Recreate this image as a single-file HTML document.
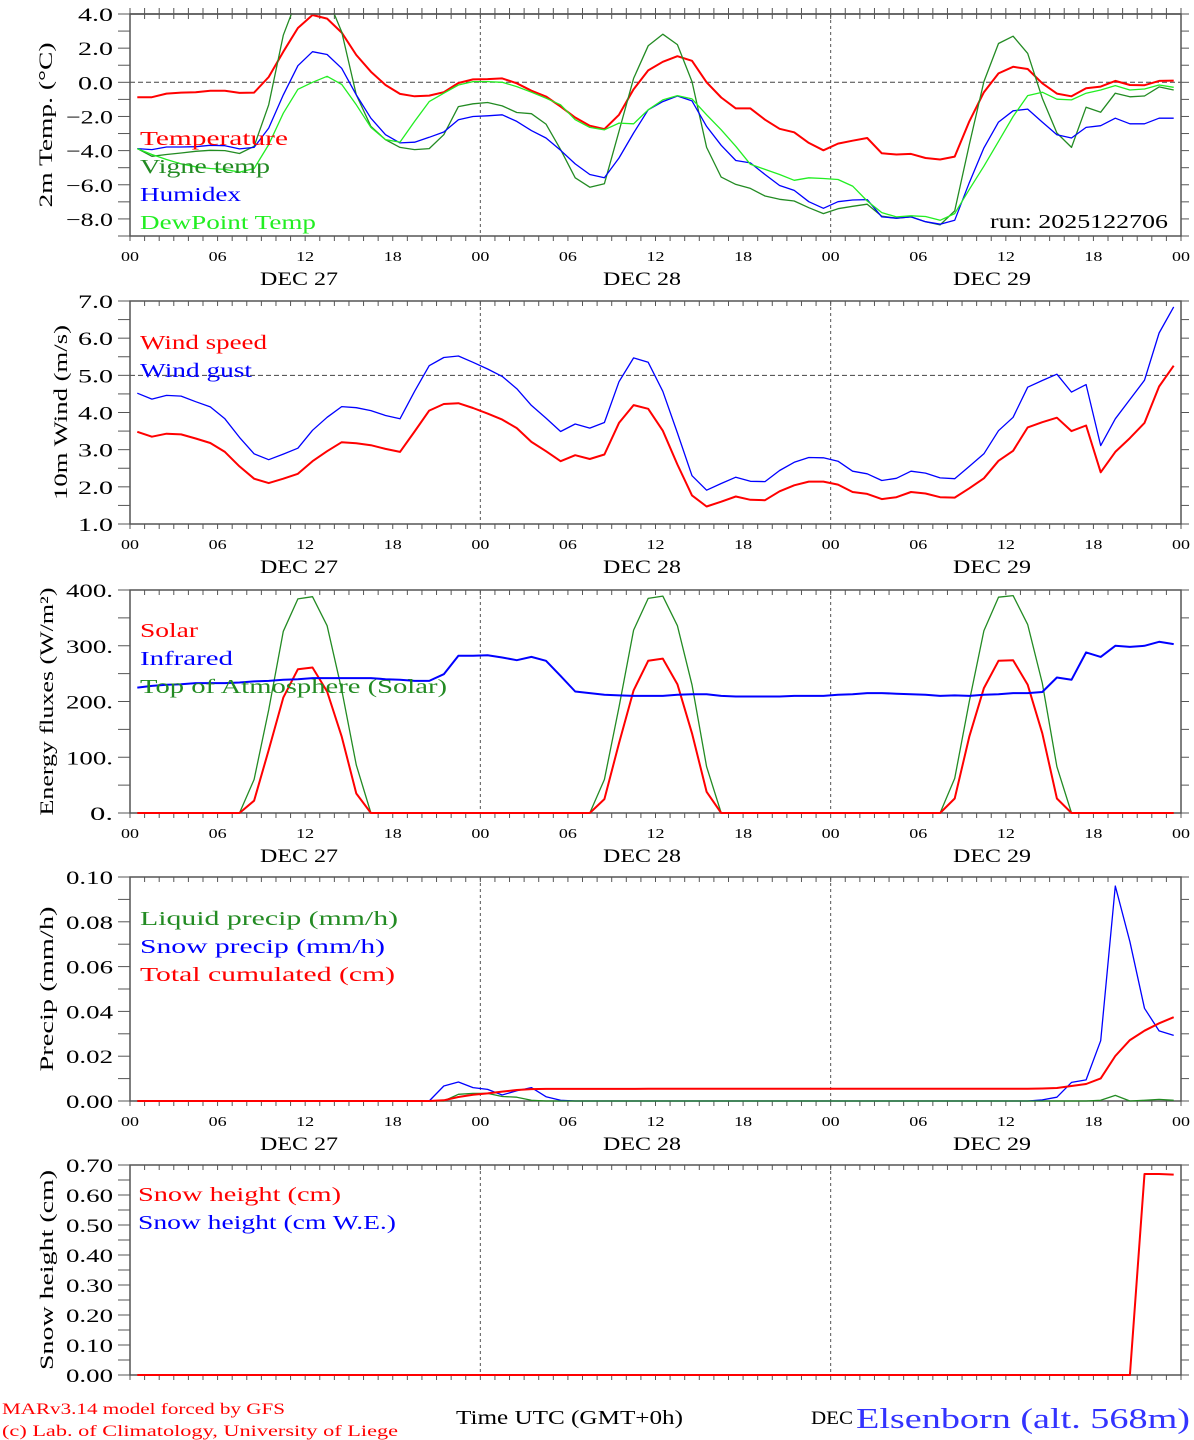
<!DOCTYPE html>
<html><head><meta charset="utf-8">
<style>
html,body{margin:0;padding:0;background:#fff;}
svg{display:block;font-family:"Liberation Serif",serif;}
</style></head>
<body>
<svg id="chart" width="1194" height="1440" viewBox="0 0 1194 1440" xmlns="http://www.w3.org/2000/svg"></svg>
<script>
const hours = Array.from({length:72},(_,i)=>i+0.5);
const hourTickLabels = ["00","06","12","18","00","06","12","18","00","06","12","18","00"];
const dayLabels = ["DEC 27","DEC 28","DEC 29"];

const tempVals = [-0.87,-0.87,-0.66,-0.6,-0.58,-0.49,-0.49,-0.62,-0.6,0.31,1.79,3.18,3.94,3.73,2.91,1.6,0.62,-0.16,-0.68,-0.82,-0.78,-0.58,-0.04,0.17,0.19,0.23,-0.06,-0.49,-0.83,-1.42,-2.06,-2.54,-2.74,-1.9,-0.41,0.7,1.2,1.53,1.26,0,-0.89,-1.53,-1.53,-2.19,-2.72,-2.93,-3.55,-3.98,-3.59,-3.42,-3.26,-4.16,-4.23,-4.19,-4.43,-4.52,-4.35,-2.29,-0.58,0.52,0.91,0.78,-0.06,-0.66,-0.82,-0.35,-0.25,0.08,-0.16,-0.17,0.08,0.1];
const vigneVals = [-3.88,-4.33,-4.23,-4.14,-4.04,-3.98,-4,-4.17,-3.75,-1.32,2.76,5.0,5.5,5.0,2.95,-0.74,-2.58,-3.36,-3.81,-3.94,-3.88,-3.07,-1.42,-1.26,-1.18,-1.38,-1.77,-1.84,-2.45,-3.94,-5.59,-6.14,-5.94,-2.87,0.23,2.14,2.82,2.21,0.04,-3.81,-5.55,-5.98,-6.21,-6.66,-6.85,-6.95,-7.34,-7.69,-7.4,-7.26,-7.14,-7.84,-7.96,-7.88,-8.16,-8.35,-7.53,-3.65,0.04,2.27,2.7,1.69,-0.93,-2.97,-3.81,-1.46,-1.75,-0.64,-0.85,-0.8,-0.27,-0.45];
const humidexVals = [-3.88,-3.94,-3.79,-3.79,-3.77,-3.69,-3.71,-3.9,-3.81,-2.68,-0.74,0.97,1.79,1.63,0.82,-0.74,-2.1,-3.07,-3.55,-3.51,-3.22,-2.91,-2.19,-2,-1.96,-1.9,-2.29,-2.83,-3.26,-3.98,-4.78,-5.4,-5.59,-4.43,-2.97,-1.61,-1.13,-0.8,-1.09,-2.58,-3.69,-4.58,-4.72,-5.4,-6.04,-6.33,-6.99,-7.38,-6.99,-6.89,-6.87,-7.88,-7.96,-7.88,-8.16,-8.31,-8.08,-5.88,-3.84,-2.33,-1.67,-1.57,-2.33,-3.07,-3.26,-2.64,-2.54,-2.1,-2.43,-2.43,-2.1,-2.1];
const dewVals = [-3.88,-4.23,-4.52,-4.78,-4.95,-5.05,-5.1,-5.26,-5.05,-3.65,-1.81,-0.41,0,0.35,-0.12,-1.32,-2.64,-3.36,-3.5,-2.29,-1.13,-0.64,-0.16,0.04,0.04,0,-0.25,-0.58,-0.93,-1.32,-2.19,-2.64,-2.78,-2.39,-2.43,-1.61,-1.03,-0.78,-0.97,-1.9,-2.78,-3.75,-4.8,-5.1,-5.4,-5.74,-5.59,-5.63,-5.69,-6.08,-6.95,-7.63,-7.88,-7.82,-7.86,-8.08,-7.69,-6.27,-4.91,-3.46,-2,-0.78,-0.58,-0.99,-1.03,-0.64,-0.45,-0.19,-0.45,-0.39,-0.16,-0.29];

const windVals = [3.48,3.35,3.43,3.41,3.3,3.18,2.94,2.55,2.22,2.1,2.22,2.35,2.69,2.96,3.2,3.17,3.12,3.02,2.94,3.49,4.05,4.23,4.25,4.12,3.97,3.81,3.58,3.21,2.96,2.69,2.85,2.75,2.87,3.72,4.2,4.1,3.51,2.6,1.77,1.47,1.6,1.74,1.65,1.64,1.88,2.04,2.14,2.14,2.06,1.86,1.81,1.67,1.72,1.86,1.82,1.72,1.71,1.96,2.23,2.7,2.97,3.6,3.74,3.86,3.5,3.65,2.39,2.94,3.31,3.72,4.7,5.26];
const gustVals = [4.52,4.36,4.46,4.44,4.29,4.15,3.83,3.33,2.89,2.73,2.88,3.04,3.52,3.87,4.16,4.13,4.05,3.92,3.83,4.57,5.26,5.48,5.52,5.35,5.17,4.97,4.64,4.19,3.85,3.49,3.69,3.58,3.73,4.83,5.47,5.35,4.57,3.45,2.3,1.91,2.09,2.26,2.15,2.14,2.44,2.66,2.79,2.78,2.69,2.42,2.35,2.17,2.23,2.42,2.37,2.24,2.22,2.55,2.89,3.51,3.87,4.68,4.86,5.03,4.55,4.75,3.11,3.83,4.35,4.87,6.14,6.84];

const solarVals = [0,0,0,0,0,0,0,0,22,113,207,258,261,218,137,35,0,0,0,0,0,0,0,0,0,0,0,0,0,0,0,0,25,125,220,273,277,231,143,38,0,0,0,0,0,0,0,0,0,0,0,0,0,0,0,0,26,137,224,273,274,230,143,26,0,0,0,0,0,0,0,0];
const irVals = [225,228,230,231,233,233,233,234,236,237,239,240,242,242,242,242,242,240,239,237,237,249,282,282,283,279,274,280,273,246,218,215,212,211,210,210,210,212,213,213,210,209,209,209,209,210,210,210,212,213,215,215,214,213,212,210,211,210,212,213,215,215,217,243,239,288,280,300,298,300,307,303];
const toaVals = [0,0,0,0,0,0,0,0,60,185,326,384,388,336,221,86,0,0,0,0,0,0,0,0,0,0,0,0,0,0,0,0,60,190,328,385,389,336,230,83,0,0,0,0,0,0,0,0,0,0,0,0,0,0,0,0,62,200,327,387,390,338,233,83,0,0,0,0,0,0,0,0];

const liquidVals = [0,0,0,0,0,0,0,0,0,0,0,0,0,0,0,0,0,0,0,0,0,0,0.003,0.0034,0.0034,0.002,0.0017,0.0003,0,0,0,0,0,0,0,0,0,0,0,0,0,0,0,0,0,0,0,0,0,0,0,0,0,0,0,0,0,0,0,0,0,0,0,0,0,0,0.0003,0.0025,0,0.0003,0.0007,0.0003];
const snowPrecipVals = [0,0,0,0,0,0,0,0,0,0,0,0,0,0,0,0,0,0,0,0,0,0.0067,0.0085,0.006,0.0052,0.0027,0.0046,0.006,0.0019,0.0003,0,0,0,0,0,0,0,0,0,0,0,0,0,0,0,0,0,0,0,0,0,0,0,0,0,0,0,0,0,0,0,0,0.0005,0.0017,0.0083,0.0094,0.0269,0.096,0.0711,0.0414,0.0313,0.0293];
const cumulVals = [0,0,0,0,0,0,0,0,0,0,0,0,0,0,0,0,0,0,0,0,0,0.0003,0.0018,0.0028,0.0034,0.0042,0.0049,0.0053,0.0054,0.0054,0.0054,0.0054,0.0054,0.0054,0.0054,0.0055,0.0055,0.0055,0.0055,0.0055,0.0055,0.0055,0.0055,0.0055,0.0055,0.0055,0.0055,0.0055,0.0055,0.0055,0.0055,0.0055,0.0055,0.0055,0.0055,0.0055,0.0055,0.0055,0.0055,0.0055,0.0055,0.0055,0.0056,0.0058,0.0067,0.0076,0.0101,0.0201,0.0272,0.0314,0.0347,0.0374];

const snowHVals = [0,0,0,0,0,0,0,0,0,0,0,0,0,0,0,0,0,0,0,0,0,0,0,0,0,0,0,0,0,0,0,0,0,0,0,0,0,0,0,0,0,0,0,0,0,0,0,0,0,0,0,0,0,0,0,0,0,0,0,0,0,0,0,0,0,0,0,0,0,0.67,0.67,0.668];

const NS="http://www.w3.org/2000/svg";
const svg=document.getElementById('chart');
const X0=130,X1=1181;
function xs(h){return X0+(h/72)*(X1-X0);}
function mk(tag,attrs,parent){const e=document.createElementNS(NS,tag);for(const k in attrs)e.setAttribute(k,attrs[k]);(parent||svg).appendChild(e);return e;}
function txt(s,attrs,parent){const e=mk('text',attrs,parent);e.textContent=s;return e;}

const panels=[
 {name:'temperature',top:14,bot:236,min:-9,max:4,lab:2,minor:1,fmt:v=>v.toFixed(1),title:'2m Temp. (°C)',tl:165,tx:45,xlab:true,ref:0,
  series:[{d:tempVals,c:'#ff0000',w:2,n:'temperature-line'},{d:vigneVals,c:'#238b23',w:1.3,n:'vigne-temp-line'},{d:humidexVals,c:'#0000ff',w:1.3,n:'humidex-line'},{d:dewVals,c:'#22ee22',w:1.3,n:'dewpoint-line'}],
  legend:[['Temperature','#ff0000',148],['Vigne temp','#238b23',130],['Humidex','#0000ff',101],['DewPoint Temp','#22ee22',176]],ly:145,lx:140},
 {name:'wind',top:301,bot:524,min:1,max:7,lab:1,minor:0.5,fmt:v=>v.toFixed(1),title:'10m Wind (m/s)',tl:175,tx:60,xlab:true,ref:5,
  series:[{d:gustVals,c:'#0000ff',w:1.3,n:'wind-gust-line'},{d:windVals,c:'#ff0000',w:2,n:'wind-speed-line'}],
  legend:[['Wind speed','#ff0000',127],['Wind gust','#0000ff',112]],ly:349,lx:140},
 {name:'energy',top:590,bot:813,min:0,max:400,lab:100,minor:50,fmt:v=>v.toFixed(0)+'.',title:'Energy fluxes (W/m²)',tl:228,tx:46,xlab:true,ref:null,
  series:[{d:toaVals,c:'#238b23',w:1.3,n:'toa-solar-line'},{d:solarVals,c:'#ff0000',w:2,n:'solar-line'},{d:irVals,c:'#0000ff',w:2,n:'infrared-line'}],
  legend:[['Solar','#ff0000',58],['Infrared','#0000ff',93],['Top of Atmosphere (Solar)','#238b23',307]],ly:637,lx:140},
 {name:'precip',top:877,bot:1101,min:0,max:0.1,lab:0.02,minor:0.01,fmt:v=>v.toFixed(2),title:'Precip (mm/h)',tl:165,tx:46,xlab:true,ref:null,
  series:[{d:snowPrecipVals,c:'#0000ff',w:1.3,n:'snow-precip-line'},{d:liquidVals,c:'#238b23',w:1.3,n:'liquid-precip-line'},{d:cumulVals,c:'#ff0000',w:2,n:'cumulated-precip-line'}],
  legend:[['Liquid precip (mm/h)','#238b23',258],['Snow precip (mm/h)','#0000ff',245],['Total cumulated (cm)','#ff0000',255]],ly:925,lx:140},
 {name:'snow',top:1165,bot:1375,min:0,max:0.7,lab:0.1,minor:0.05,fmt:v=>v.toFixed(2),title:'Snow height (cm)',tl:200,tx:46,xlab:false,ref:null,
  series:[{d:snowHVals,c:'#ff0000',w:2,n:'snow-height-line'}],
  legend:[['Snow height (cm)','#ff0000',203],['Snow height (cm W.E.)','#0000ff',258]],ly:1201,lx:138}
];

panels.forEach(p=>{
  const g=mk('g',{});
  
  
  const ys=v=>p.bot-(v-p.min)/(p.max-p.min)*(p.bot-p.top);
  [24,48].forEach(h=>{
    const l=mk('line',{x1:xs(h),x2:xs(h),y1:p.top,y2:p.bot,stroke:'#555','stroke-width':1,'stroke-dasharray':'3,3'},g);
    
    
  });
  if(p.ref!==null){
    const l=mk('line',{x1:X0,x2:X1,y1:ys(p.ref),y2:ys(p.ref),stroke:'#444','stroke-width':1,'stroke-dasharray':'5,3'},g);
    
    
  }
  const fr=mk('rect',{x:X0,y:p.top,width:X1-X0,height:p.bot-p.top,fill:'none',stroke:'#555','stroke-width':1.5},g);
  
  
  for(let h=0;h<=72;h++){
    const x=xs(h);
    mk('line',{x1:x,x2:x,y1:p.top,y2:p.top+5,stroke:'#555','stroke-width':1},g);
    mk('line',{x1:x,x2:x,y1:p.bot,y2:p.bot+5,stroke:'#555','stroke-width':1},g);
  }
  const nMinor=Math.round((p.max-p.min)/p.minor);
  for(let k=0;k<=nMinor;k++){
    const v=p.min+k*p.minor, y=ys(v);
    mk('line',{x1:X0-12,x2:X0,y1:y,y2:y,stroke:'#555','stroke-width':1},g);
    mk('line',{x1:X1,x2:X1+8,y1:y,y2:y,stroke:'#555','stroke-width':1},g);
  }
  const nLab=Math.round((p.max-p.min)/p.lab);
  for(let k=0;k<=nLab;k++){
    let v=p.max-k*p.lab;
    if(v<p.min-1e-9) break;
    if(Math.abs(v)<1e-9) v=0;
    const s=p.fmt(v).replace('-','\u2212');
    const t=txt(s,{x:113,y:ys(v)+7,'font-size':19,'text-anchor':'end',fill:'#000',textLength:(s.length*11.7).toFixed(0),lengthAdjust:'spacingAndGlyphs'},g);
    
    
  }
  const yt=txt(p.title,{x:0,y:0,'font-size':19,'text-anchor':'middle',fill:'#000',textLength:p.tl,lengthAdjust:'spacingAndGlyphs',transform:`translate(${p.tx+7},${(p.top+p.bot)/2}) rotate(-90)`},g);
  
  
  if(p.xlab){
    hourTickLabels.forEach((s,k)=>{
      const t=txt(s,{x:xs(k*6),y:p.bot+25,'font-size':14,'text-anchor':'middle',fill:'#000',textLength:18,lengthAdjust:'spacingAndGlyphs'},g);
      
      
    });
    dayLabels.forEach((s,k)=>{
      const t=txt(s,{x:[299,642,992][k],y:p.bot+49,'font-size':19,'text-anchor':'middle',fill:'#000',textLength:78,lengthAdjust:'spacingAndGlyphs'},g);
      
      
    });
  }
  p.series.forEach(s=>{
    const pts=s.d.map((v,i)=>xs(hours[i]).toFixed(1)+','+ys(v).toFixed(1)).join(' ');
    const pl=mk('polyline',{points:pts,fill:'none',stroke:s.c,'stroke-width':s.w,'stroke-linejoin':'round'},g);
    
    
  });
  p.legend.forEach((l,k)=>{
    const t=txt(l[0],{x:p.lx,y:p.ly+k*28,'font-size':20,fill:l[1],textLength:l[2],lengthAdjust:'spacingAndGlyphs'},g);
    
    
  });
});
const cover=mk('rect',{x:X0+1,y:0,width:X1-X0-2,height:13,fill:'#fff'});


for(let h=0;h<=72;h++){mk('line',{x1:xs(h),x2:xs(h),y1:8,y2:14,stroke:'#555','stroke-width':1});}
mk('line',{x1:X0,x2:X1,y1:14,y2:14,stroke:'#555','stroke-width':1.5});

const run=txt('run: 2025122706',{x:1168,y:228,'font-size':20,'text-anchor':'end',fill:'#000',textLength:178,lengthAdjust:'spacingAndGlyphs'});



const f1=txt('MARv3.14 model forced by GFS',{x:2,y:1414,'font-size':16,fill:'#ff0000',textLength:283,lengthAdjust:'spacingAndGlyphs'});


const f2=txt('(c) Lab. of Climatology, University of Liege',{x:2,y:1436,'font-size':16,fill:'#ff0000',textLength:396,lengthAdjust:'spacingAndGlyphs'});


const f3=txt('Time UTC (GMT+0h)',{x:456,y:1424,'font-size':20,fill:'#000',textLength:227,lengthAdjust:'spacingAndGlyphs'});


const f4=txt('DEC',{x:811,y:1424,'font-size':19,fill:'#000',textLength:42,lengthAdjust:'spacingAndGlyphs'});


const f5=txt('Elsenborn (alt. 568m)',{x:856,y:1428,'font-size':29,fill:'#3333ff',textLength:334,lengthAdjust:'spacingAndGlyphs'});


</script>
</body></html>
